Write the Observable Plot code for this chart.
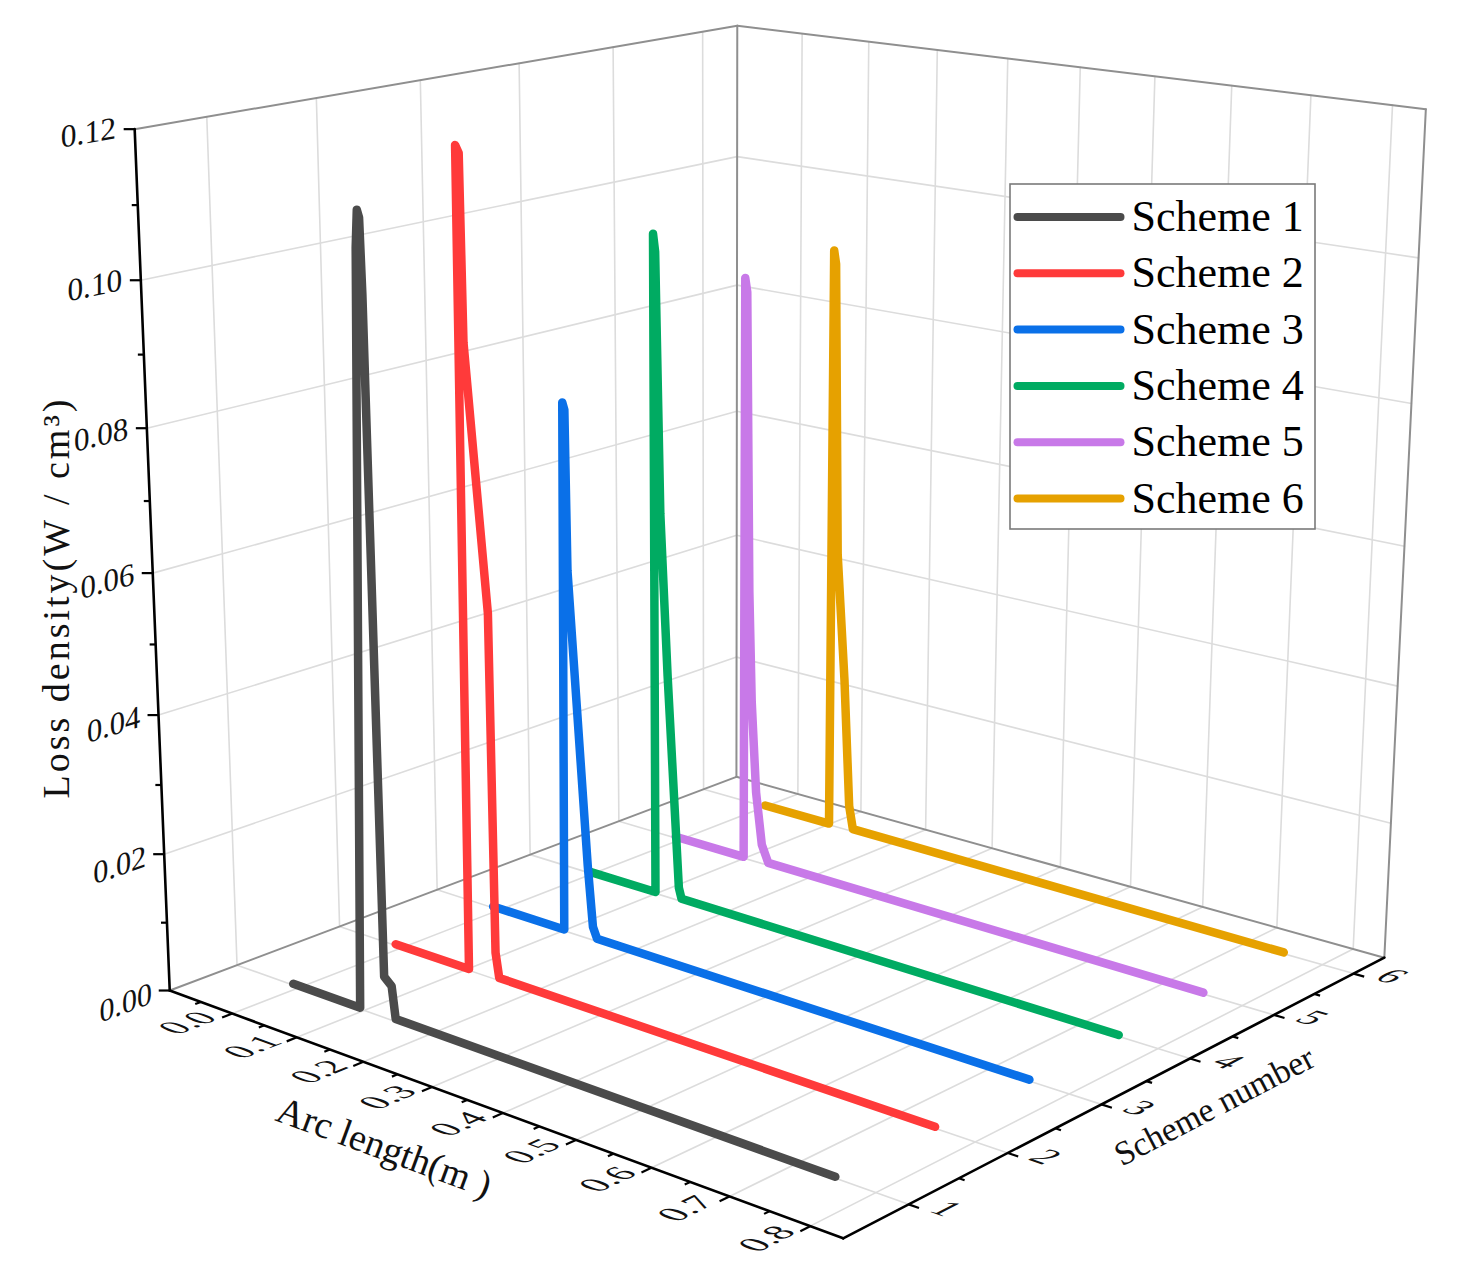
<!DOCTYPE html>
<html>
<head>
<meta charset="utf-8">
<script src="https://cdn.jsdelivr.net/npm/d3@7"></script>
<script src="https://cdn.jsdelivr.net/npm/@observablehq/plot@0.6"></script>
<style>
  html, body { margin: 0; padding: 0; background: #ffffff; }
  #chart svg { display: block; }
</style>
</head>
<body>
<div id="chart"></div>
<script>
// ---------------- DATA ----------------
const schemeNames = ["Scheme 1", "Scheme 2", "Scheme 3", "Scheme 4", "Scheme 5", "Scheme 6"];
const schemeNumbers = [1, 2, 3, 4, 5, 6];
const schemeColors = ["#4b4b4b", "#ff3a3a", "#0a70e8", "#00ab62", "#c879e8", "#e6a100"];

// arc length (m) and loss density (W/cm^3) per scheme
const arc1  = [-0.01, 0.094, 0.117, 0.120, 0.123, 0.125, 0.132, 0.143, 0.148, 0.75];
const loss1 = [0.0002, 0.0002, 0.106, 0.111, 0.110, 0.100, 0.006, 0.005, 0.0004, 0.0002];
const arc2  = [-0.01, 0.104, 0.106, 0.111, 0.113, 0.142, 0.145, 0.150, 0.75];
const loss2 = [0.0002, 0.0002, 0.1165, 0.1155, 0.090, 0.053, 0.004, 0.0004, 0.0002];
const arc3  = [-0.01, 0.101, 0.107, 0.110, 0.112, 0.138, 0.145, 0.151, 0.75];
const loss3 = [0.0002, 0.0002, 0.078, 0.077, 0.054, 0.011, 0.002, 0.0004, 0.0002];
const arc4  = [-0.006, 0.099, 0.100, 0.103, 0.109, 0.119, 0.135, 0.139, 0.75];
const loss4 = [0.0002, 0.0002, 0.0985, 0.096, 0.058, 0.034, 0.002, 0.0004, 0.0002];
const arc5  = [-0.008, 0.099, 0.100, 0.103, 0.107, 0.111, 0.118, 0.127, 0.137, 0.75];
const loss5 = [0.0002, 0.0002, 0.089, 0.087, 0.042, 0.025, 0.011, 0.003, 0.0004, 0.0002];
const arc6  = [0, 0.101, 0.102, 0.105, 0.111, 0.123, 0.132, 0.138, 0.75];
const loss6 = [0.0002, 0.0002, 0.090, 0.088, 0.0435, 0.024, 0.004, 0.0004, 0.0002];

const arcSeries = [arc1, arc2, arc3, arc4, arc5, arc6];
const lossSeries = [loss1, loss2, loss3, loss4, loss5, loss6];

// axis ticks
const lossTicks = [0, 0.02, 0.04, 0.06, 0.08, 0.10, 0.12];
const lossTickLabels = ["0.00", "0.02", "0.04", "0.06", "0.08", "0.10", "0.12"];
const lossMinorTicks = [0.01, 0.03, 0.05, 0.07, 0.09, 0.11];
const arcTicks = [0, 0.1, 0.2, 0.3, 0.4, 0.5, 0.6, 0.7, 0.8];
const arcTickLabels = ["0.0", "0.1", "0.2", "0.3", "0.4", "0.5", "0.6", "0.7", "0.8"];
const arcMinorTicks = [-0.05, 0.05, 0.15, 0.25, 0.35, 0.45, 0.55, 0.65, 0.75];
const schemeTicks = [1, 2, 3, 4, 5, 6];
const schemeTickLabels = ["1", "2", "3", "4", "5", "6"];
const schemeMinorTicks = [1.5, 2.5, 3.5, 4.5, 5.5];

const arcTitle = "Arc length(m )";
const schemeTitle = "Scheme number";
const lossTitle = "Loss density(W / cm³)";

// ---------------- 3D FRAME (layout) ----------------
const W = 1459, H = 1271;
const arcDomain = [-0.1, 0.84];
const schemeDomain = [0.37, 6.4];
const lossDomain = [0, 0.12];
const [aMin, aMax] = arcDomain, [sMin, sMax] = schemeDomain, [zMin, zMax] = lossDomain;

// perspective calibration of the box frame: [arc, scheme, loss, px, py, weight]
const frameAnchors = [
  [aMin, sMin, zMin, 174, 988, 4], [aMax, sMin, zMin, 847, 1237, 4], [aMax, sMax, zMin, 1385, 951, 4],
  [aMin, sMax, zMin, 743, 773, 4], [aMin, sMin, zMax, 138, 125, 4], [aMin, sMax, zMax, 743, 27, 4],
  [aMax, sMax, zMax, 1426, 108, 4],
  [aMin, sMin, 0.02, 169, 853, 2], [aMin, sMin, 0.04, 163, 715, 2], [aMin, sMin, 0.06, 156, 571, 2],
  [aMin, sMin, 0.08, 150, 425, 2], [aMin, sMin, 0.10, 145, 278, 2],
  [0.0, sMin, 0, 240, 1012, 0.4], [0.1, sMin, 0, 308, 1037, 0.4], [0.2, sMin, 0, 370, 1060, 0.4],
  [0.3, sMin, 0, 437, 1085, 0.4], [0.4, sMin, 0, 510, 1112, 0.4], [0.5, sMin, 0, 580, 1138, 0.4],
  [0.6, sMin, 0, 658, 1167, 0.4], [0.7, sMin, 0, 734, 1195, 0.4], [0.8, sMin, 0, 815, 1225, 0.4],
  [aMax, 1, 0, 907, 1208, 3], [aMax, 2, 0, 1002, 1156, 3], [aMax, 3, 0, 1097, 1105, 3],
  [aMax, 4, 0, 1188, 1058, 3], [aMax, 5, 0, 1273, 1017, 3], [aMax, 6, 0, 1353, 973, 3],
  [aMin, 1, 0, 228, 968, 3], [aMin, 2, 0, 330, 929, 3], [aMin, 3, 0, 433, 890, 3],
  [aMin, 4, 0, 527, 855, 3], [aMin, 5, 0, 617, 821, 3], [aMin, 6, 0, 702, 789, 3],
  [aMin, 1, zMax, 198, 115, 2], [aMin, 2, zMax, 309, 97, 2], [aMin, 3, zMax, 414, 80, 2],
  [aMin, 4, zMax, 513, 64, 2], [aMin, 5, zMax, 608, 49, 2], [aMin, 6, zMax, 697, 35, 2],
  [0.0, sMax, zMax, 806, 35, 1], [0.1, sMax, zMax, 872, 43, 1]
];

function norm3(a, s, z) {
  return [(a - aMin) / (aMax - aMin), (s - sMin) / (sMax - sMin), (z - zMin) / (zMax - zMin)];
}
function fitProjection(anchors) {
  const N = 11;
  const M = Array.from({length: N}, () => new Array(N).fill(0));
  const r = new Array(N).fill(0);
  for (const [a, s, z, px, py, wt] of anchors) {
    const [u, v, w] = norm3(a, s, z);
    const X = px / 1000, Y = py / 1000;
    const rows = [
      [u, v, w, 1, 0, 0, 0, 0, -X * u, -X * v, -X * w, X],
      [0, 0, 0, 0, u, v, w, 1, -Y * u, -Y * v, -Y * w, Y]
    ];
    for (const row of rows) for (let i = 0; i < N; i++) {
      r[i] += wt * row[i] * row[N];
      for (let j = 0; j < N; j++) M[i][j] += wt * row[i] * row[j];
    }
  }
  for (let c = 0; c < N; c++) {
    let p = c;
    for (let k = c + 1; k < N; k++) if (Math.abs(M[k][c]) > Math.abs(M[p][c])) p = k;
    [M[c], M[p]] = [M[p], M[c]]; [r[c], r[p]] = [r[p], r[c]];
    for (let k = c + 1; k < N; k++) {
      const f = M[k][c] / M[c][c];
      for (let j = c; j < N; j++) M[k][j] -= f * M[c][j];
      r[k] -= f * r[c];
    }
  }
  const P = new Array(N).fill(0);
  for (let i = N - 1; i >= 0; i--) {
    let acc = r[i];
    for (let j = i + 1; j < N; j++) acc -= M[i][j] * P[j];
    P[i] = acc / M[i][i];
  }
  return P;
}
const PM = fitProjection(frameAnchors);
function project(a, s, z) {
  const [u, v, w] = norm3(a, s, z);
  const d = PM[8] * u + PM[9] * v + PM[10] * w + 1;
  return [1000 * (PM[0] * u + PM[1] * v + PM[2] * w + PM[3]) / d,
          1000 * (PM[4] * u + PM[5] * v + PM[6] * w + PM[7]) / d];
}
function unit(p, q) { const dx = q[0] - p[0], dy = q[1] - p[1], L = Math.hypot(dx, dy); return [dx / L, dy / L]; }
function add(p, d, k) { return [p[0] + d[0] * k, p[1] + d[1] * k]; }
function arcDirAt(a, s, z) { return unit(project(a, s, z), project(a + 0.05, s, z)); }
function schemeDirAt(a, s, z) { return unit(project(a, s, z), project(a, s + 0.3, z)); }
function angleOf(d) { return Math.atan2(d[1], d[0]) * 180 / Math.PI; }

// ---------------- GEOMETRY FROM DATA ----------------
const gridPts = [];
function seg(arr, id, A, B) { arr.push({id, x: A[0], y: A[1]}, {id, x: B[0], y: B[1]}); }
arcTicks.forEach((a, i) => seg(gridPts, "fa" + i, project(a, sMin, 0), project(a, sMax, 0)));
schemeTicks.forEach((s, i) => seg(gridPts, "fs" + i, project(aMin, s, 0), project(aMax, s, 0)));
schemeTicks.forEach((s, i) => seg(gridPts, "ls" + i, project(aMin, s, zMin), project(aMin, s, zMax)));
lossTicks.slice(1, -1).forEach((z, i) => seg(gridPts, "lz" + i, project(aMin, sMin, z), project(aMin, sMax, z)));
arcTicks.forEach((a, i) => seg(gridPts, "ra" + i, project(a, sMax, zMin), project(a, sMax, zMax)));
lossTicks.slice(1, -1).forEach((z, i) => seg(gridPts, "rz" + i, project(aMin, sMax, z), project(aMax, sMax, z)));

const edgePts = [];
seg(edgePts, "e1", project(aMin, sMin, 0), project(aMin, sMax, 0));
seg(edgePts, "e2", project(aMin, sMax, 0), project(aMax, sMax, 0));
seg(edgePts, "e3", project(aMin, sMax, 0), project(aMin, sMax, zMax));
seg(edgePts, "e4", project(aMin, sMin, zMax), project(aMin, sMax, zMax));
seg(edgePts, "e5", project(aMin, sMax, zMax), project(aMax, sMax, zMax));
seg(edgePts, "e6", project(aMax, sMax, 0), project(aMax, sMax, zMax));

const axisPts = [];
seg(axisPts, "zA", project(aMin, sMin, 0), project(aMin, sMin, zMax));
seg(axisPts, "xA", project(aMin, sMin, 0), project(aMax, sMin, 0));
seg(axisPts, "yA", project(aMax, sMin, 0), project(aMax, sMax, 0));

const tickSegs = [];
function tick(P, dir, len) { const Q = add(P, dir, len); tickSegs.push({x1: P[0], y1: P[1], x2: Q[0], y2: Q[1]}); }
lossTicks.forEach(z => tick(project(aMin, sMin, z), [-1, 0], 11));
lossMinorTicks.forEach(z => tick(project(aMin, sMin, z), [-1, 0], 6));
arcTicks.forEach(a => { const sd = schemeDirAt(a, sMin, 0); tick(project(a, sMin, 0), [-sd[0], -sd[1]], 11); });
arcMinorTicks.forEach(a => { const sd = schemeDirAt(a, sMin, 0); tick(project(a, sMin, 0), [-sd[0], -sd[1]], 6); });
schemeTicks.forEach(s => tick(project(aMax, s, 0), arcDirAt(aMax, s, 0), 11));
schemeMinorTicks.forEach(s => tick(project(aMax, s, 0), arcDirAt(aMax, s, 0), 6));

// tick labels (anchor + in-plane glyph matrix)
const lossLabelData = lossTicks.map((z, i) => {
  const P = project(aMin, sMin, z), sd = schemeDirAt(aMin, sMin, z);
  const A = add(add(P, sd, -19), [0, 1], 6);
  return {x: A[0], y: A[1], text: lossTickLabels[i], m: [sd[0], sd[1], 0, 1]};
});
const arcLabelData = arcTicks.map((a, i) => {
  const P = project(a, sMin, 0), sd = schemeDirAt(a, sMin, 0), ad = arcDirAt(a, sMin, 0);
  const A = add(P, sd, -14);
  return {x: A[0], y: A[1], text: arcTickLabels[i], m: [sd[0], sd[1], ad[0], ad[1]]};
});
const schemeLabelData = schemeTicks.map((s, i) => {
  const P = project(aMax, s, 0), sd = schemeDirAt(aMax, s, 0), ad = arcDirAt(aMax, s, 0);
  const A = add(P, ad, 20);
  return {x: A[0], y: A[1], text: schemeTickLabels[i], m: [ad[0], ad[1], -sd[0], -sd[1]]};
});

// axis titles
const arcTitlePos = add(project(0.37, sMin, 0), schemeDirAt(0.37, sMin, 0), -106);
const schemeTitlePos = add(project(aMax, 3.45, 0), arcDirAt(aMax, 3.45, 0), 76);
const titleData = [
  {x: arcTitlePos[0], y: arcTitlePos[1], text: arcTitle, rotate: angleOf(arcDirAt(0.37, sMin, 0)), size: 38},
  {x: schemeTitlePos[0], y: schemeTitlePos[1], text: schemeTitle, rotate: angleOf(schemeDirAt(aMax, 3.45, 0)), size: 34}
];
const zTitlePos = {x: 56, y: 597};

// series in screen space
const seriesPts = arcSeries.map((arcs, k) => arcs.map((a, i) => {
  const [x, y] = project(a, schemeNumbers[k], lossSeries[k][i]);
  return {x, y, scheme: schemeNames[k]};
}));

// legend layout
const legendBox = {x1: 1010, y1: 184, x2: 1315, y2: 529};
const legendRows = schemeNames.map((name, i) => ({
  name, color: schemeColors[i], y: 216.5 + i * 56.3, x1: 1017, x2: 1120, tx: 1131
}));

// ---------------- PLOT ----------------
const seriesMarks = [];
for (let k = 5; k >= 0; k--) {
  seriesMarks.push(Plot.line(seriesPts[k], {
    x: "x", y: "y", stroke: schemeColors[k], strokeWidth: 8.5,
    strokeLinejoin: "round", strokeLinecap: "round"
  }));
}

const chart = Plot.plot({
  width: W, height: H,
  marginTop: 0, marginRight: 0, marginBottom: 0, marginLeft: 0,
  x: {type: "linear", domain: [0, W], range: [0, W], axis: null},
  y: {type: "linear", domain: [0, H], range: [0, H], axis: null},
  style: {fontFamily: "'Liberation Serif', 'Times New Roman', serif", background: "#ffffff", color: "#000"},
  marks: [
    Plot.line(gridPts, {x: "x", y: "y", z: "id", stroke: "#dcdcdc", strokeWidth: 1.6}),
    Plot.line(edgePts, {x: "x", y: "y", z: "id", stroke: "#8f8f8f", strokeWidth: 2}),
    ...seriesMarks,
    Plot.line(axisPts, {x: "x", y: "y", z: "id", stroke: "#000", strokeWidth: 2.6}),
    Plot.link(tickSegs, {x1: "x1", y1: "y1", x2: "x2", y2: "y2", stroke: "#000", strokeWidth: 2.2}),
    Plot.text(lossLabelData, {x: "x", y: "y", text: "text", textAnchor: "end", fontSize: 32, fill: "#111", className: "loss-labels"}),
    Plot.text(arcLabelData, {x: "x", y: "y", text: "text", textAnchor: "end", fontSize: 36, fill: "#111", className: "arc-labels"}),
    Plot.text(schemeLabelData, {x: "x", y: "y", text: "text", textAnchor: "start", fontSize: 36, fill: "#111", className: "scheme-labels"}),
    Plot.text(titleData, {x: "x", y: "y", text: "text", rotate: "rotate", fontSize: "size", fill: "#111"}),
    Plot.text([zTitlePos], {x: "x", y: "y", text: () => lossTitle, rotate: -90, fontSize: 38, fill: "#111", className: "ztitle"}),
    Plot.rect([legendBox], {x1: "x1", y1: "y1", x2: "x2", y2: "y2", fill: "#fff", stroke: "#7a7a7a", strokeWidth: 1.6}),
    Plot.link(legendRows, {x1: "x1", x2: "x2", y1: "y", y2: "y", stroke: "color", strokeWidth: 8, strokeLinecap: "round"}),
    Plot.text(legendRows, {x: "tx", y: "y", text: "name", textAnchor: "start", fontSize: 44, fill: "#000"})
  ]
});

// apply in-plane glyph matrices for the 3D tick labels
function applyMatrices(svg, cls, data) {
  const texts = svg.querySelectorAll(`g.${cls} text`);
  texts.forEach((t, k) => {
    const d = data[k]; if (!d) return;
    t.removeAttribute("x"); t.removeAttribute("y");
    t.setAttribute("transform", `matrix(${d.m[0]},${d.m[1]},${d.m[2]},${d.m[3]},${d.x},${d.y})`);
  });
}
applyMatrices(chart, "loss-labels", lossLabelData);
applyMatrices(chart, "arc-labels", arcLabelData);
applyMatrices(chart, "scheme-labels", schemeLabelData);
chart.querySelectorAll("g.ztitle text").forEach(t => t.style.letterSpacing = "3px");

document.getElementById("chart").appendChild(chart);
</script>
</body>
</html>
